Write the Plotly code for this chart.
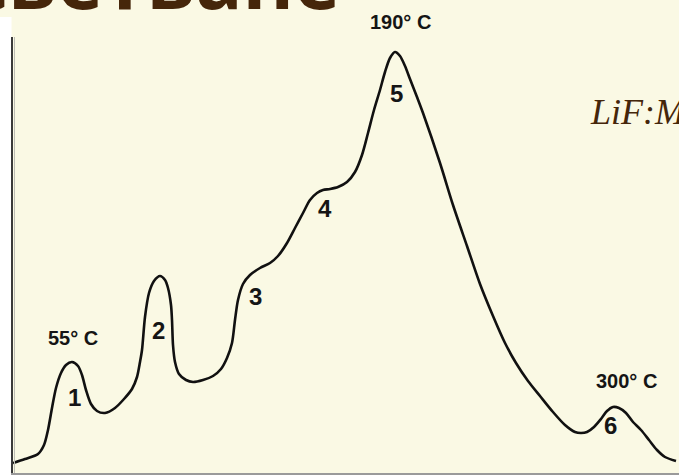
import plotly.graph_objects as go

# Glow curve of LiF:Mg,Ti: channel (arbitrary heating scale) vs. TL intensity (a.u.)
channel = [0, 12, 25, 31, 35, 39, 43, 48, 53, 59, 65, 69, 73, 78, 84, 92, 102, 111, 119, 124,
           127, 129, 132, 136, 141, 147, 152, 155, 158, 159, 160, 162, 166, 173, 180, 190, 200,
           208, 214, 219, 222, 225, 230, 237, 247, 257, 265, 274, 282, 290, 297, 304, 310, 317,
           325, 334, 342, 349, 355, 361, 367, 372, 377, 382, 387, 392, 397, 404, 410, 427, 440,
           454, 467, 480, 492, 503, 515, 527, 540, 552, 562, 568, 574, 581, 588, 594, 600, 606,
           613, 620, 628, 636, 644, 652, 663]
glow = [10, 14, 19, 28, 43, 65, 85, 100, 108, 111, 107, 98, 83, 69, 62, 60, 65, 74, 84, 96,
        111, 123, 156, 180, 192, 197, 193, 185, 168, 153, 128, 111, 99, 93, 91, 93, 97, 104,
        115, 130, 153, 173, 189, 198, 205, 210, 217, 230, 245, 260, 273, 280, 283, 284, 286,
        291, 301, 318, 340, 363, 383, 401, 415, 421, 417, 407, 394, 376, 360, 310, 268, 227,
        189, 157, 130, 110, 92, 77, 61, 48, 41, 40, 41, 46, 54, 62, 66, 65, 60, 51, 43, 33, 23,
        16, 12, 10]

# Peak labels: (channel, intensity, text)
peak_labels = [(61, 76, "1"), (145, 143, "2"), (242, 177, "3"), (312, 265, "4"), (383, 380, "5"),
               (597, 48, "6")]
temp_labels = [(60, 135, "55° C"), (387, 451, "190° C"), (613, 92, "300° C")]
y_top = 436  # upper limit of the intensity axis

cream = "#FAF9E4"
brown = "#45260A"

fig = go.Figure()
fig.add_trace(go.Scatter(
    x=channel, y=glow, mode="lines",
    line=dict(color="#111111", width=2.6, shape="spline", smoothing=0.8),
    hoverinfo="skip", showlegend=False,
))

annotations = []
for x, y, t in peak_labels:
    annotations.append(dict(x=x, y=y, text="<b>" + t + "</b>", showarrow=False,
                            yanchor="middle",
                            font=dict(family="Liberation Sans", size=24, color="#151515")))
for x, y, t in temp_labels:
    # labels may sit above the plotting area, so place them in paper units vertically
    annotations.append(dict(x=x, yref="paper", y=y / y_top, text="<b>" + t + "</b>",
                            showarrow=False, yanchor="middle",
                            font=dict(family="Liberation Sans", size=20, color="#151515")))

# Slide heading (mostly above the chart) and material label
annotations.append(dict(xref="paper", yref="paper", x=-13 / 666, y=1 + 37 / 436,
                        xanchor="left", yanchor="middle", yshift=21, xshift=-34,
                        text="<b>светване</b>", showarrow=False,
                        font=dict(family="Open Sans", size=78, color=brown)))
annotations.append(dict(xref="paper", yref="paper", x=575 / 666, y=(473 - 112) / 436,
                        xanchor="left", yanchor="middle",
                        text="<i>LiF:Mg,Ti</i>", showarrow=False,
                        font=dict(family="Liberation Serif", size=36, color=brown)))

shapes = [
    # white strip along the left edge
    dict(type="rect", xref="paper", yref="paper", x0=-13 / 666, x1=-1.5 / 666,
         y0=-2 / 436, y1=(473 - 17) / 436, fillcolor="white", line=dict(width=0), layer="below"),
    # soft shade beside the intensity axis
    dict(type="line", xref="paper", yref="paper", x0=1.5 / 666, x1=1.5 / 666, y0=0, y1=1,
         line=dict(color="#bdbdb5", width=1)),
]

fig.update_layout(
    width=679, height=475,
    margin=dict(l=13, r=0, t=37, b=2),
    paper_bgcolor=cream, plot_bgcolor=cream,
    xaxis=dict(range=[0, 666], showgrid=False, zeroline=False, showticklabels=False,
               ticks="", showline=True, linecolor="#9a9a9a", linewidth=2),
    yaxis=dict(range=[0, y_top], showgrid=False, zeroline=False, showticklabels=False,
               ticks="", showline=True, linecolor="#3a3a3a", linewidth=2),
    annotations=annotations,
    shapes=shapes,
)

fig.write_html("out.html")
